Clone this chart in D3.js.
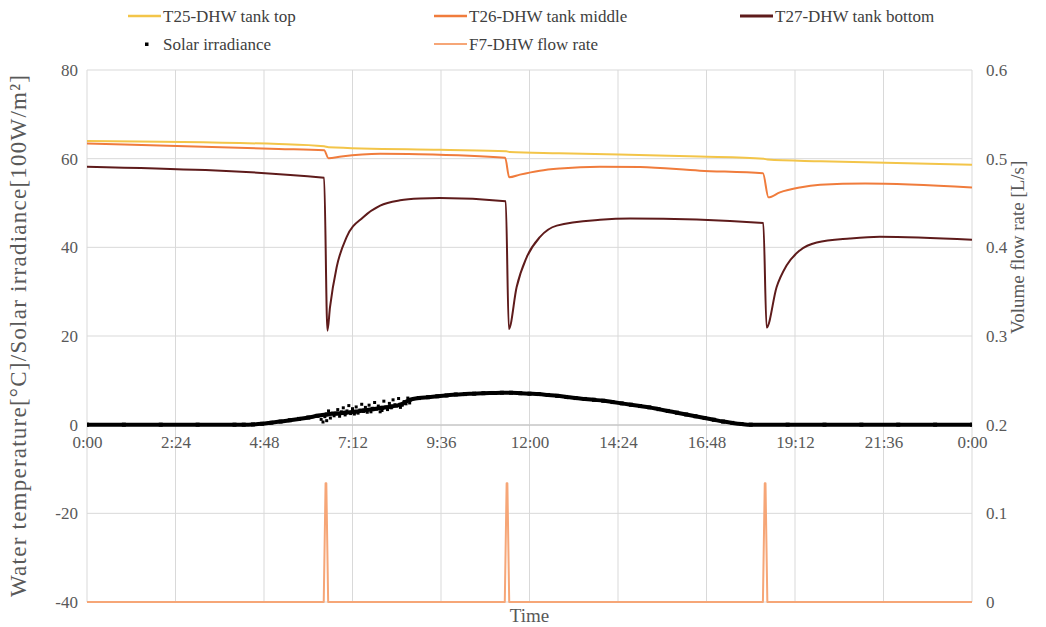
<!DOCTYPE html>
<html>
<head>
<meta charset="utf-8">
<script src="https://cdn.jsdelivr.net/npm/d3@7"></script>
<style>
  html, body { margin: 0; padding: 0; background: #fff; }
  svg { display: block; }
  svg text { font-family: "Liberation Serif", "Times New Roman", serif !important; }
</style>
</head>
<body>
<svg id="chart" width="1046" height="627"></svg>
<script>
// ---- Data (time in hours of the day) ----
const xTicks = [0, 2.4, 4.8, 7.2, 9.6, 12, 14.4, 16.8, 19.2, 21.6, 24];
const yLeftTicks = [-40, -20, 0, 20, 40, 60, 80];
const yRightTicks = [0, 0.1, 0.2, 0.3, 0.4, 0.5, 0.6];

// T25 - DHW tank top [°C]
const t25Time  = [0, 5.2, 6.43, 6.55, 9.57, 11.37, 11.46, 12.8, 16.6, 18.35, 18.45, 19.9, 24];
const t25Value = [64.0, 63.3, 62.8, 62.6, 62.0, 61.7, 61.5, 61.2, 60.5, 60.0, 59.8, 59.4, 58.6];

// T26 - DHW tank middle [°C]
const t26Time  = [0, 5.2, 6.43, 6.55, 6.9, 7.95, 9.0, 11.34, 11.45, 11.74, 12.28, 12.83, 13.91, 15.0, 16.62, 18.33, 18.48, 18.79, 19.33, 19.88, 21.1, 24];
const t26Value = [63.4, 62.2, 61.9, 60.1, 60.5, 61.1, 61.0, 60.2, 55.8, 56.4, 57.3, 57.8, 58.2, 58.1, 57.3, 56.7, 51.3, 52.4, 53.5, 54.1, 54.4, 53.5];

// T27 - DHW tank bottom [°C]
const t27Time  = [0, 6.43, 6.52, 6.59, 6.77, 7.04, 7.49, 7.95, 8.49, 9.03, 9.57, 11.355, 11.44, 11.65, 11.92, 12.28, 12.74, 13.91, 14.73, 18.34, 18.43, 18.70, 18.97, 19.33, 19.79, 20.69, 21.5, 24];
const t27Value = [58.2, 55.7, 21.2, 26.5, 35.5, 42.3, 46.8, 49.4, 50.6, 51.0, 51.1, 50.4, 21.6, 31.0, 37.7, 42.3, 44.9, 46.2, 46.5, 45.5, 21.9, 31.0, 35.9, 39.3, 41.1, 42.0, 42.4, 41.7];

// Solar irradiance [100 W/m²]
const solarTime  = [0, 1, 2, 3, 4, 4.25, 4.5, 4.75, 5.0, 5.25, 5.5, 5.75, 6.0, 6.25, 6.5, 6.75, 7.0, 7.25, 7.5, 7.75, 8.0, 8.25, 8.5, 8.75, 9.0, 9.25, 9.5, 9.75, 10.0, 10.25, 10.5, 10.75, 11.0, 11.25, 11.5, 11.75, 12.0, 12.25, 12.5, 12.75, 13.0, 13.25, 13.5, 13.75, 14.0, 14.25, 14.5, 14.75, 15.0, 15.25, 15.5, 15.75, 16.0, 16.25, 16.5, 16.75, 17.0, 17.25, 17.5, 17.75, 18.0, 19, 20, 21, 22, 23, 24];
const solarValue = [0, 0, 0, 0, 0, 0, 0.05, 0.2, 0.45, 0.7, 1.0, 1.3, 1.6, 2.0, 2.3, 2.5, 2.7, 2.9, 3.2, 3.5, 3.8, 4.1, 4.5, 5.6, 6.0, 6.2, 6.4, 6.6, 6.8, 6.9, 7.0, 7.1, 7.15, 7.2, 7.2, 7.1, 7.0, 6.9, 6.7, 6.5, 6.25, 6.0, 5.8, 5.6, 5.4, 5.1, 4.8, 4.5, 4.2, 3.9, 3.5, 3.1, 2.7, 2.3, 1.9, 1.5, 1.1, 0.7, 0.4, 0.15, 0, 0, 0, 0, 0, 0, 0];
// Scattered irradiance readings during the partly cloudy morning
const solarScatterTime  = [6.35, 6.4, 6.45, 6.5, 6.55, 6.6, 6.65, 6.7, 6.8, 6.85, 6.9, 6.95, 7.0, 7.05, 7.1, 7.15, 7.2, 7.25, 7.3, 7.35, 7.4, 7.45, 7.5, 7.55, 7.6, 7.65, 7.7, 7.75, 7.8, 7.85, 7.9, 7.95, 8.0, 8.05, 8.1, 8.15, 8.2, 8.25, 8.3, 8.35, 8.4, 8.45, 8.5, 8.55, 8.6, 8.65, 8.7, 8.75];
const solarScatterValue = [1.2, 0.6, 1.8, 0.9, 3.1, 1.5, 2.6, 2.0, 3.4, 1.9, 2.9, 3.8, 2.2, 3.1, 4.3, 2.5, 3.6, 2.4, 4.0, 2.6, 3.3, 4.6, 3.0, 3.9, 2.8, 4.4, 2.9, 3.7, 5.0, 3.5, 4.2, 2.9, 3.2, 5.3, 4.0, 3.4, 4.8, 3.8, 5.6, 4.5, 4.2, 5.9, 3.9, 4.4, 5.2, 4.7, 6.0, 4.9];

// F7 - DHW flow rate [L/s]
const flowTime  = [0, 6.42, 6.47, 6.49, 6.54, 11.33, 11.38, 11.40, 11.45, 18.33, 18.38, 18.40, 18.45, 24];
const flowValue = [0, 0, 0.134, 0.134, 0, 0, 0.134, 0.134, 0, 0, 0.134, 0.134, 0, 0];

// ---- Layout ----
const svg = d3.select("#chart");
const mLeft = 87, mRight = 972, mTop = 70, mBottom = 602;
const serif = '"Liberation Serif", "Times New Roman", serif';

const x = d3.scaleLinear().domain([0, 24]).range([mLeft, mRight]);
const yL = d3.scaleLinear().domain([-40, 80]).range([mBottom, mTop]);
const yR = d3.scaleLinear().domain([0, 0.6]).range([mBottom, mTop]);

const fmtTime = h => {
  const total = Math.round((h % 24) * 60);
  const hh = Math.floor(total / 60), mm = total % 60;
  return hh + ":" + String(mm).padStart(2, "0");
};

const gridColor = "#d9d9d9";
const textColor = "#595959";

// Gridlines
svg.append("g").selectAll("line").data(yLeftTicks).join("line")
  .attr("x1", mLeft).attr("x2", mRight)
  .attr("y1", d => yL(d)).attr("y2", d => yL(d))
  .attr("stroke", gridColor).attr("stroke-width", 1);
svg.append("g").selectAll("line").data(xTicks).join("line")
  .attr("x1", d => x(d)).attr("x2", d => x(d))
  .attr("y1", mTop).attr("y2", mBottom)
  .attr("stroke", gridColor).attr("stroke-width", 1);

function styleAxis(g) {
  g.attr("font-family", null).attr("font-size", 17);
  g.selectAll("text").attr("fill", textColor).style("font-family", serif);
}

// Left axis labels
const leftAxis = d3.axisLeft(yL).tickValues(yLeftTicks).tickSize(0).tickPadding(9)
  .tickFormat(d => String(d));
svg.append("g").attr("transform", `translate(${mLeft},0)`).call(leftAxis)
  .call(g => g.select(".domain").remove())
  .call(styleAxis);

// Right axis labels
const rightAxis = d3.axisRight(yR).tickValues(yRightTicks).tickSize(0).tickPadding(14)
  .tickFormat(d => d === 0 ? "0" : d.toFixed(1));
svg.append("g").attr("transform", `translate(${mRight},0)`).call(rightAxis)
  .call(g => g.select(".domain").remove())
  .call(styleAxis);

// Horizontal time axis crossing at 0
const xAxis = d3.axisBottom(x).tickValues(xTicks).tickSize(0).tickPadding(11).tickFormat(fmtTime);
svg.append("g").attr("transform", `translate(0,${yL(0)})`).call(xAxis)
  .call(g => g.select(".domain").attr("stroke", "#bfbfbf"))
  .call(styleAxis);

// Clip
svg.append("clipPath").attr("id", "plot-clip").append("rect")
  .attr("x", mLeft).attr("y", mTop - 2).attr("width", mRight - mLeft).attr("height", mBottom - mTop + 4);
const plot = svg.append("g").attr("clip-path", "url(#plot-clip)");

const zip = (ts, vs) => ts.map((t, i) => [t, vs[i]]);
const lineL = d3.line().x(d => x(d[0])).y(d => yL(d[1])).curve(d3.curveMonotoneX);
const lineR = d3.line().x(d => x(d[0])).y(d => yR(d[1]));

const colors = {
  t25: "#f3c549",
  t26: "#f07c3c",
  t27: "#5e1b1b",
  flow: "#f6a677",
  solar: "#000000"
};

// Flow rate (right axis)
plot.append("path").datum(zip(flowTime, flowValue))
  .attr("d", lineR).attr("fill", "none")
  .attr("stroke", colors.flow).attr("stroke-width", 2).attr("stroke-linejoin", "round");

// Solar irradiance: dense markers along the series plus scattered readings
const solarPts = zip(solarTime, solarValue);
plot.append("path").datum(solarPts)
  .attr("d", lineL).attr("fill", "none")
  .attr("stroke", colors.solar).attr("stroke-width", 4);
plot.append("g").selectAll("rect").data(solarPts).join("rect")
  .attr("x", d => x(d[0]) - 2).attr("y", d => yL(d[1]) - 2)
  .attr("width", 4).attr("height", 4).attr("fill", colors.solar);
plot.append("g").selectAll("rect").data(zip(solarScatterTime, solarScatterValue)).join("rect")
  .attr("x", d => x(d[0]) - 1.5).attr("y", d => yL(d[1]) - 1.5)
  .attr("width", 3).attr("height", 3).attr("fill", colors.solar);

// Tank temperatures
[["t27", t27Time, t27Value], ["t26", t26Time, t26Value], ["t25", t25Time, t25Value]].forEach(([k, ts, vs]) => {
  plot.append("path").datum(zip(ts, vs))
    .attr("d", lineL).attr("fill", "none")
    .attr("stroke", colors[k]).attr("stroke-width", 2).attr("stroke-linejoin", "round");
});

// Axis titles
svg.append("text")
  .attr("transform", `translate(26,${(mTop + mBottom) / 2}) rotate(-90)`)
  .attr("text-anchor", "middle").attr("font-size", 23).attr("fill", textColor)
  .attr("textLength", 522).attr("lengthAdjust", "spacing")
  .text("Water temperature[°C]/Solar irradiance[100W/m²]");
svg.append("text")
  .attr("transform", `translate(1024,${yR(0.4)}) rotate(-90)`)
  .attr("text-anchor", "middle").attr("font-size", 19).attr("fill", textColor)
  .text("Volume flow rate [L/s]");
svg.append("text")
  .attr("x", (mLeft + mRight) / 2).attr("y", 622)
  .attr("text-anchor", "middle").attr("font-size", 19).attr("fill", textColor)
  .text("Time");

// Legend
const legendItems = [
  { key: "t25", label: "T25-DHW tank top", lx: 128, ly: 16, type: "line", w: 2.5 },
  { key: "t26", label: "T26-DHW tank middle", lx: 434, ly: 16, type: "line", w: 2.5 },
  { key: "t27", label: "T27-DHW tank bottom", lx: 740, ly: 16, type: "line", w: 3 },
  { key: "solar", label: "Solar irradiance", lx: 128, ly: 44, type: "marker" },
  { key: "flow", label: "F7-DHW flow rate", lx: 434, ly: 44, type: "line", w: 2 }
];
const lg = svg.append("g");
legendItems.forEach(it => {
  if (it.type === "line") {
    lg.append("line").attr("x1", it.lx).attr("x2", it.lx + 33)
      .attr("y1", it.ly).attr("y2", it.ly)
      .attr("stroke", colors[it.key]).attr("stroke-width", it.w);
  } else {
    lg.append("rect").attr("x", it.lx + 17).attr("y", it.ly - 1.5)
      .attr("width", 3.5).attr("height", 3.5).attr("fill", colors[it.key]);
  }
  lg.append("text").attr("x", it.lx + 35).attr("y", it.ly).attr("dy", "0.35em")
    .attr("font-size", 17).attr("fill", "#404040").text(it.label);
});
</script>
</body>
</html>
